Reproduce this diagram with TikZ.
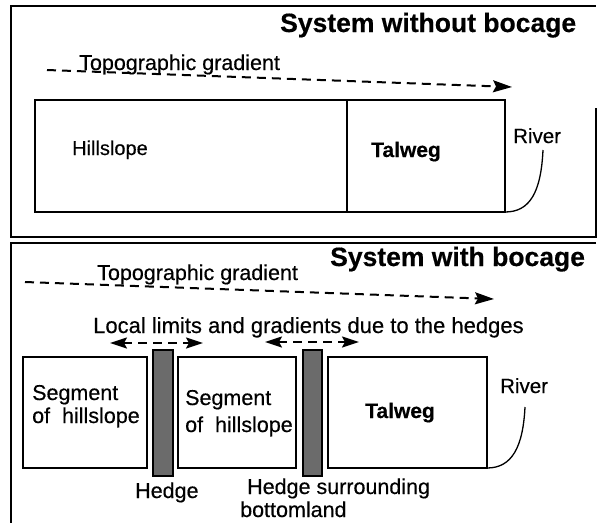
\documentclass[tikz,border=0pt]{standalone}
\usepackage{fontspec}
\setmainfont{Liberation Sans}[FakeBold=0.4]
\usetikzlibrary{arrows.meta}
\begin{document}
\begin{tikzpicture}[x=1pt,y=-1pt,
  frame/.style={line width=1.3pt},
  box/.style={draw, line width=2.2pt, rectangle, inner sep=0pt, outer sep=0pt, anchor=north west},
  hedgebox/.style={draw, line width=1.6pt, fill=black!58, inner sep=0pt, outer sep=0pt, anchor=north west},
  lbl/.style={anchor=base west, inner sep=0pt, font=\fontsize{21.5}{24}\selectfont},
  ttl/.style={anchor=base west, inner sep=0pt, font=\bfseries\fontsize{26.5}{30}\selectfont},
  tal/.style={anchor=base west, inner sep=0pt, font=\bfseries\fontsize{21}{24}\selectfont},
  bigtip/.tip={Stealth[length=19pt,width=12pt,inset=3pt]},
  smalltip/.tip={Stealth[length=17pt,width=11pt,inset=3pt]},
  grad/.style={line width=2pt, dash pattern=on 9pt off 6pt, -bigtip},
  both/.style={line width=2pt, dash pattern=on 9pt off 6pt, smalltip-smalltip},
  river/.style={line width=1.3pt}]
\useasboundingbox (0,0) rectangle (597,523);

% ---------- top panel ----------
\draw[frame] (596,108) -- (596,237) -- (11,237) -- (11,6) -- (596,6);
\node[ttl] (title1) at (280,32) {System without bocage};
\node[lbl] (topo1) at (79,70) {Topographic gradient};
\coordinate (g1s) at (47,70);
\coordinate (g1e) at (512,87);
\draw[grad] (g1s) -- (g1e);

\node[box, minimum width=312pt, minimum height=112pt] (hillbox) at (35,100) {};
\node[box, minimum width=158pt, minimum height=112pt] (talbox1) at (347,100) {};
\node[lbl, font=\fontsize{20}{24}\selectfont] (hill) at (72,155) {Hillslope};
\node[tal] (tal1) at (371,157) {Talweg};
\node[lbl, font=\fontsize{20.5}{24}\selectfont] (riv1) at (513,143) {River};
\coordinate (r1s) at (543,150);
\draw[river] (r1s) .. controls (541,192) and (530,212) .. (talbox1.south east);

% ---------- bottom panel ----------
\draw[frame] (596,243) -- (11,243) -- (11,523);
\node[ttl] (title2) at (330,266) {System with bocage};
\node[lbl] (topo2) at (97,280) {Topographic gradient};
\coordinate (g2s) at (25,282);
\coordinate (g2e) at (494,299);
\draw[grad] (g2s) -- (g2e);

\node[lbl, font=\fontsize{22}{24}\selectfont] (local) at (93,333) {Local limits and gradients due to the hedges};
\coordinate (a1s) at (110,343);
\coordinate (a1e) at (203,343);
\draw[both] (a1s) -- (a1e);
\coordinate (a2s) at (265,342);
\coordinate (a2e) at (359,342);
\draw[both] (a2s) -- (a2e);

\node[box, minimum width=124pt, minimum height=111pt] (seg1) at (23,357) {};
\node[hedgebox, minimum width=20pt, minimum height=126pt] (hedge1) at (153,350) {};
\node[box, minimum width=118pt, minimum height=111pt] (seg2) at (178,357) {};
\node[hedgebox, minimum width=19pt, minimum height=126pt] (hedge2) at (303,350) {};
\node[box, minimum width=159pt, minimum height=111pt] (talbox2) at (328,357) {};

\node[lbl] (s1a) at (32,400) {Segment};
\node[lbl] (s1b) at (32,423) {of~ hillslope};
\node[lbl] (s2a) at (185,405) {Segment};
\node[lbl] (s2b) at (185,432) {of~ hillslope};
\node[tal] (tal2) at (365,418) {Talweg};
\node[lbl, font=\fontsize{20.5}{24}\selectfont] (riv2) at (500,393) {River};
\coordinate (r2s) at (525,407);
\draw[river] (r2s) .. controls (523,447) and (512,468) .. (talbox2.south east);

\node[lbl] (hedgelbl) at (135,498) {Hedge};
\node[lbl] (hsur) at (247,494) {Hedge surrounding};
\node[lbl] (hbot) at (240,517) {bottomland};
\end{tikzpicture}
\end{document}
